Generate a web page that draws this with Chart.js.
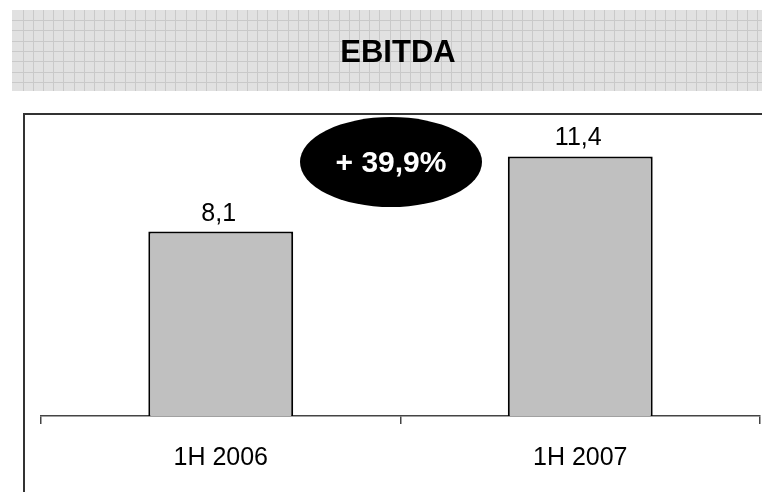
<!DOCTYPE html>
<html>
<head>
<meta charset="utf-8">
<title>EBITDA</title>
<script src="https://cdn.jsdelivr.net/npm/chart.js@4/dist/chart.umd.min.js"></script>
<style>
  html, body { margin: 0; padding: 0; background: #fff; }
  canvas { display: block; }
</style>
</head>
<body>
<canvas id="ebitdaChart" width="762" height="492"></canvas>
<script>
// half-year EBITDA values
const periods = ["1H 2006", "1H 2007"];
const ebitda = [8.1, 11.4];
const titleText = "EBITDA";
const growthText = "+ 39,9%";

const fontFamily = "'Liberation Sans', Arial, sans-serif";

function fmt(v) {
    return v.toFixed(1).replace(".", ",");
}

// grid-paper header band with the title, plus the frame around the plot
const backdrop = {
    id: "backdrop",
    beforeDraw(chart) {
        const ctx = chart.ctx;
        ctx.save();
        const x0 = 12, y0 = 10, x1 = 762, y1 = 91;
        ctx.fillStyle = "#e1e1e1";
        ctx.fillRect(x0, y0, x1 - x0, y1 - y0);
        ctx.strokeStyle = "#c9c9c9";
        ctx.lineWidth = 1;
        ctx.beginPath();
        for (let x = 22.5; x < x1; x += 10.2) {
            const px = Math.round(x) + 0.5;
            ctx.moveTo(px, y0);
            ctx.lineTo(px, y1);
        }
        for (let y = 20; y < y1; y += 10.3) {
            const py = Math.round(y) + 0.5;
            ctx.moveTo(x0, py);
            ctx.lineTo(x1, py);
        }
        ctx.stroke();

        ctx.fillStyle = "#000";
        ctx.font = "bold 31px " + fontFamily;
        ctx.textAlign = "center";
        ctx.textBaseline = "middle";
        ctx.fillText(titleText, 398, 53);

        // frame: left and top edges
        ctx.strokeStyle = "#333";
        ctx.lineWidth = 2;
        ctx.beginPath();
        ctx.moveTo(24, 492);
        ctx.lineTo(24, 114);
        ctx.lineTo(762, 114);
        ctx.stroke();
        ctx.restore();
    }
};

// value labels above bars and the growth bubble
const annotations = {
    id: "annotations",
    afterDatasetsDraw(chart) {
        const ctx = chart.ctx;
        const meta = chart.getDatasetMeta(0);
        ctx.save();
        ctx.fillStyle = "#000";
        ctx.font = "25px " + fontFamily;
        ctx.textAlign = "center";
        ctx.textBaseline = "alphabetic";
        meta.data.forEach((bar, i) => {
            ctx.fillText(fmt(ebitda[i]), bar.x - 2, bar.y - 11);
        });

        ctx.fillStyle = "#000";
        ctx.beginPath();
        ctx.ellipse(391, 162, 91, 45, 0, 0, Math.PI * 2);
        ctx.fill();
        ctx.fillStyle = "#fff";
        ctx.font = "bold 30px " + fontFamily;
        ctx.textBaseline = "middle";
        ctx.fillText(growthText, 391, 164);
        ctx.restore();
    }
};

new Chart(document.getElementById("ebitdaChart").getContext("2d"), {
    type: "bar",
    data: {
        labels: periods,
        datasets: [{
            data: ebitda,
            backgroundColor: "#c0c0c0",
            borderColor: "#000",
            borderWidth: 2,
            barPercentage: 1,
            categoryPercentage: 0.403
        }]
    },
    options: {
        responsive: false,
        animation: false,
        layout: {
            padding: { left: 41, right: 2, top: 120, bottom: 0 }
        },
        plugins: {
            legend: { display: false },
            tooltip: { enabled: false }
        },
        scales: {
            x: {
                grid: {
                    display: true,
                    drawOnChartArea: false,
                    drawTicks: true,
                    tickLength: 8,
                    color: "#444",
                    lineWidth: 1.5
                },
                border: { display: true, color: "#444", width: 1.5 },
                ticks: {
                    color: "#000",
                    padding: 19,
                    font: { family: fontFamily, size: 25 }
                },
                afterFit(scale) {
                    scale.height = 76;
                }
            },
            y: {
                display: false,
                min: 0,
                max: 13
            }
        }
    },
    plugins: [backdrop, annotations]
});
</script>
</body>
</html>
